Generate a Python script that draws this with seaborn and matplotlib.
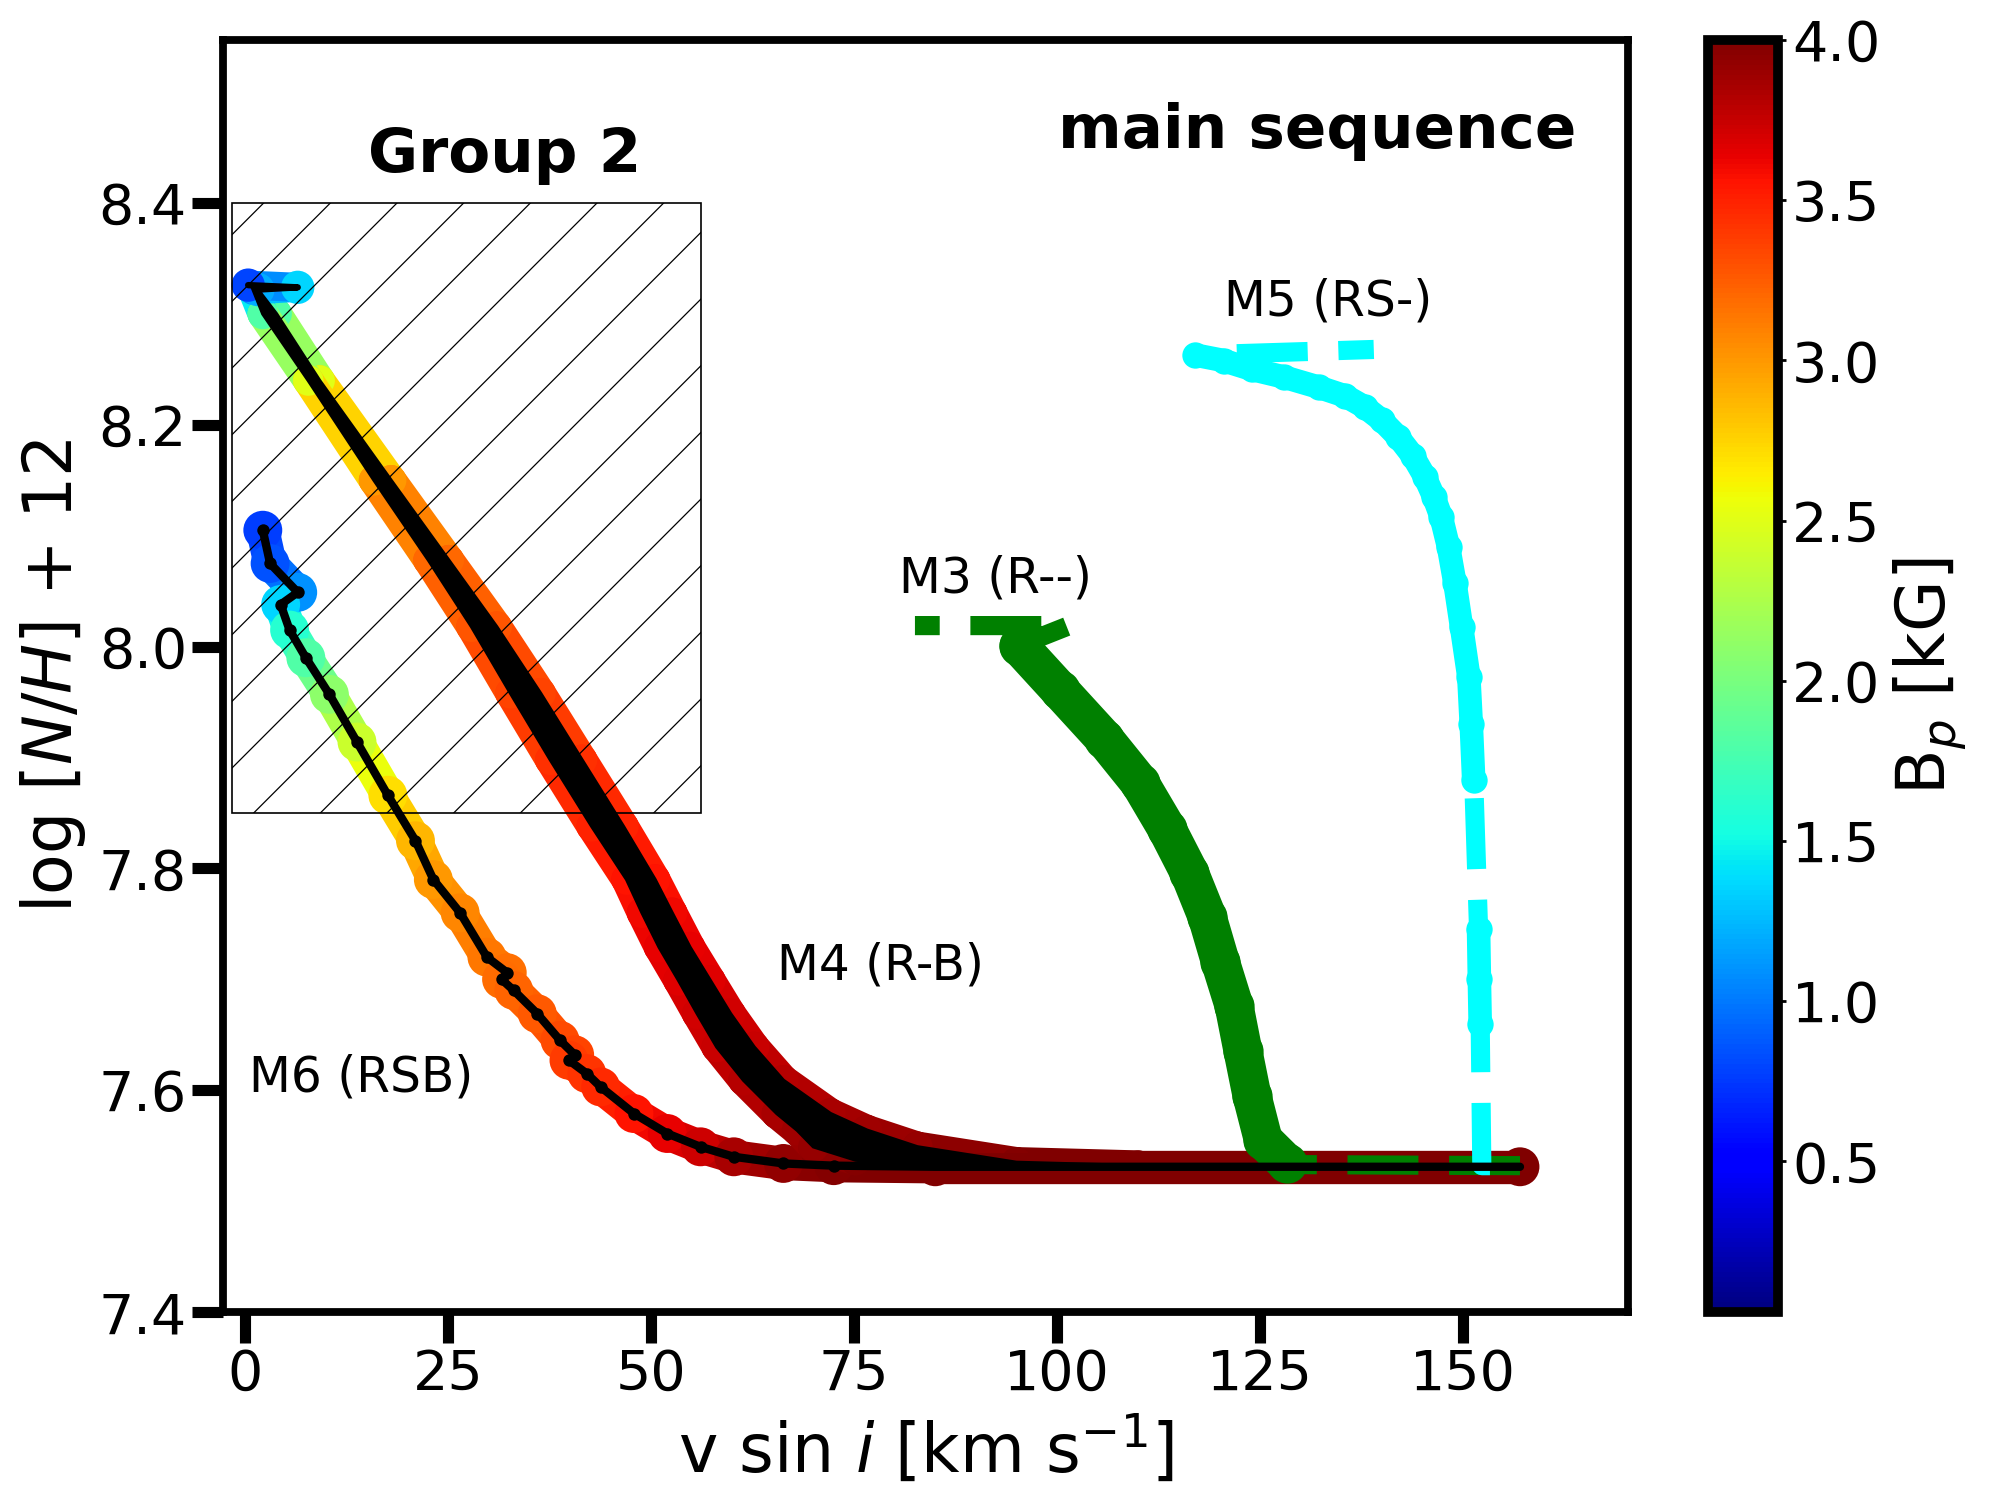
import numpy as np
import matplotlib
matplotlib.use("Agg")
import matplotlib.pyplot as plt
import seaborn as sns
from matplotlib.collections import LineCollection
from matplotlib.colors import Normalize
from matplotlib.patches import Rectangle

# ---- data ----
# M6 (RSB): track centre and surface field B_p [kG]
m6_v = [2.2, 3.1, 6.5, 4.4, 5.5, 7.5, 10.4, 13.8, 17.6, 21.0, 23.2, 26.5, 29.8,
        32.3, 31.6, 33.1, 36.0, 38.8, 40.6, 39.9, 42.1, 43.8, 47.9, 52.0, 56.1,
        60.2, 66.3, 72.5, 85.0, 157.0]
m6_nh = [8.105, 8.075, 8.049, 8.038, 8.015, 7.990, 7.957, 7.914, 7.866, 7.825,
         7.790, 7.760, 7.720, 7.706, 7.700, 7.690, 7.669, 7.645, 7.632, 7.627,
         7.615, 7.603, 7.579, 7.561, 7.549, 7.540, 7.534, 7.532, 7.531, 7.531]
m6_bp = [0.77, 0.85, 1.1, 1.35, 1.6, 1.8, 2.1, 2.4, 2.7, 2.88, 3.0, 3.07, 3.14,
         3.17, 3.19, 3.21, 3.26, 3.32, 3.36, 3.38, 3.42, 3.47, 3.56, 3.64, 3.73,
         3.85, 3.93, 3.98, 4.0, 4.0]

# M4 (R-B): upper and lower edge of the band, same B_p along both
m4_up_v = [1.6, 3.9, 9.2, 18.0, 25.1, 31.0, 36.4, 41.5, 46.6, 50.5, 52.6, 54.8,
           57.3, 59.8, 62.7, 66.3, 72.1, 76.6, 82.8, 95.0, 110.0, 157.0]
m4_up_nh = [8.322, 8.300, 8.240, 8.150, 8.078, 8.018, 7.958, 7.898, 7.838,
            7.790, 7.760, 7.729, 7.699, 7.669, 7.639, 7.609, 7.579, 7.564,
            7.549, 7.535, 7.532, 7.532]
m4_lo_v = [1.0, 2.2, 7.8, 15.9, 22.6, 27.9, 32.7, 37.6, 42.7, 47.0, 48.9, 51.0,
           53.4, 55.7, 58.1, 61.4, 65.5, 68.0, 70.0, 75.2, 85.7, 157.0]
m4_lo_nh = [8.322, 8.300, 8.240, 8.150, 8.078, 8.018, 7.958, 7.898, 7.838,
            7.790, 7.760, 7.729, 7.699, 7.669, 7.639, 7.609, 7.579, 7.564,
            7.549, 7.537, 7.530, 7.530]
m4_bp = [1.1, 1.8, 2.5, 3.0, 3.2, 3.28, 3.36, 3.43, 3.5, 3.56, 3.6, 3.63, 3.67,
         3.71, 3.75, 3.8, 3.85, 3.89, 3.92, 3.97, 4.0, 4.0]
# end-of-main-sequence hook of M4
m4_hook_v = [1.6, 6.5, 0.4]
m4_hook_nh = [8.322, 8.324, 8.326]
m4_hook_bp = [1.2, 1.35, 0.8]

# M3 (R--): points and dashed track
m3_v = [95.3, 100.3, 105.8, 110.2, 113.5, 116.3, 118.5, 120.1, 121.8, 122.9,
        124.0, 125.4, 128.3]
m3_nh = [8.001, 7.961, 7.917, 7.877, 7.836, 7.796, 7.756, 7.716, 7.676, 7.635,
         7.595, 7.555, 7.534]
m3_line_v = [157.0, 127.8, 125.4, 124.0, 122.9, 121.8, 120.1, 118.5, 116.3,
             113.5, 110.2, 105.8, 100.3, 95.3, 101.5, 82.5]
m3_line_nh = [7.532, 7.533, 7.555, 7.595, 7.635, 7.676, 7.716, 7.756, 7.796,
              7.836, 7.877, 7.917, 7.961, 8.001, 8.019, 8.019]

# M5 (RS-): points and dashed track
m5_v = [117.0, 120.5, 124.0, 128.0, 132.2, 135.5, 137.9, 140.0, 142.0, 143.8,
        145.3, 146.4, 147.3, 148.2, 149.0, 149.8, 150.7, 151.0, 151.3, 151.9,
        152.0, 152.1]
m5_nh = [8.263, 8.258, 8.250, 8.243, 8.234, 8.226, 8.216, 8.204, 8.189, 8.172,
         8.153, 8.135, 8.117, 8.090, 8.057, 8.018, 7.973, 7.930, 7.880, 7.745,
         7.700, 7.660]
m5_line_v = [157.0, 152.3, 152.1, 151.9, 151.3, 150.7, 149.8, 149.0, 148.2,
             147.3, 146.4, 145.3, 143.8, 142.0, 140.0, 137.9, 135.5, 132.2,
             128.0, 124.0, 120.5, 117.0, 139.0]
m5_line_nh = [7.532, 7.532, 7.660, 7.745, 7.880, 7.973, 8.018, 8.057, 8.090,
              8.117, 8.135, 8.153, 8.172, 8.189, 8.204, 8.216, 8.226, 8.234,
              8.243, 8.250, 8.258, 8.263, 8.268]

xticks = [0, 25, 50, 75, 100, 125, 150]
yticks = [7.4, 7.6, 7.8, 8.0, 8.2, 8.4]
cbar_ticks = [0.5, 1.0, 1.5, 2.0, 2.5, 3.0, 3.5, 4.0]

# ---- style ----
sns.set_style("white")
plt.rcParams.update({
    "font.family": ["DejaVu Sans"],
    "mathtext.fontset": "dejavusans",
    "text.color": "black",
    "axes.labelcolor": "black",
    "axes.edgecolor": "black",
    "xtick.color": "black",
    "ytick.color": "black",
    "hatch.linewidth": 0.45,
})

jet = matplotlib.colormaps["jet"]
norm = Normalize(vmin=0.03, vmax=4.0)

fig = plt.figure(figsize=(10, 7.5), dpi=200)
ax = fig.add_axes([0.1115, 0.1253, 0.7025, 0.848])
cax = fig.add_axes([0.854, 0.1253, 0.035, 0.848])
ax.set_xlim(-2.7, 170.3)
ax.set_ylim(7.4, 8.547)


def colour_band(v, nh, bp, lw, z, msize):
    pts = np.column_stack([v, nh])
    segs = np.stack([pts[:-1], pts[1:]], axis=1)
    bp = np.asarray(bp, dtype=float)
    lc = LineCollection(segs, cmap=jet, norm=norm, linewidths=lw,
                        capstyle="round", joinstyle="round", zorder=z)
    lc.set_array((bp[:-1] + bp[1:]) / 2)
    ax.add_collection(lc)
    sns.scatterplot(x=v, y=nh, hue=bp, palette=jet, hue_norm=norm,
                    s=msize ** 2, linewidth=0, legend=False, ax=ax, zorder=z)


# coloured tracks (M6 and M4)
colour_band(m6_v, m6_nh, m6_bp, 12.0, 2, 14.0)
colour_band(m4_up_v, m4_up_nh, m4_bp, 11.0, 2, 11.0)
colour_band(m4_lo_v, m4_lo_nh, m4_bp, 11.0, 2, 11.0)
colour_band(m4_hook_v, m4_hook_nh, m4_hook_bp, 10.5, 2, 12.0)

# M3
ax.plot(m3_line_v, m3_line_nh, color="green", lw=6.9, ls="--",
        dash_joinstyle="round", zorder=3)
ax.plot(m3_v, m3_nh, color="green", lw=14, solid_capstyle="round",
        solid_joinstyle="round", zorder=3)
sns.scatterplot(x=m3_v, y=m3_nh, color="green", s=210, linewidth=0,
                legend=False, ax=ax, zorder=3)

# M5: dashed track, phase chosen so that it ends half way through a dash
lw5 = 6.9
px_pt = fig.dpi / 72.0
xy = ax.transData.transform(np.column_stack([m5_line_v, m5_line_nh]))
path_px = np.hypot(*np.diff(xy, axis=0).T).sum()
dash_px, period_px = 3.7 * lw5 * px_pt, 5.3 * lw5 * px_pt
off = ((0.5 * dash_px - path_px) % period_px) / px_pt / lw5
ax.plot(m5_line_v, m5_line_nh, color="cyan", lw=lw5, ls=(off, (3.7, 1.6)),
        dash_joinstyle="round", zorder=4)
ax.plot(m5_v[:19], m5_nh[:19], color="cyan", lw=8.5, solid_capstyle="round",
        solid_joinstyle="round", zorder=4)
ax.plot(m5_v[19:], m5_nh[19:], color="cyan", lw=8.5, solid_capstyle="round",
        zorder=4)
sns.scatterplot(x=m5_v, y=m5_nh, color="cyan", s=90, linewidth=0,
                legend=False, ax=ax, zorder=4)

# Group 2 region
ax.add_patch(Rectangle((-1.6, 7.85), 57.8, 0.55, fill=False, hatch="/",
                       edgecolor="black", lw=0.6, zorder=4.5))

# black overlays
ax.fill(np.r_[m4_up_v, m4_lo_v[::-1]], np.r_[m4_up_nh, m4_lo_nh[::-1]],
        color="black", lw=1.2, zorder=5)
ax.plot(m4_hook_v, m4_hook_nh, color="black", lw=2.3, zorder=5,
        solid_capstyle="round")
ax.plot(m6_v, m6_nh, color="black", lw=3.0, zorder=5)
sns.scatterplot(x=m6_v[:-2], y=m6_nh[:-2], color="black", s=20, linewidth=0,
                legend=False, ax=ax, zorder=5)

# labels
ax.text(32, 8.428, "Group 2", fontsize=22, fontweight="bold", ha="center",
        va="baseline")
ax.text(163.9, 8.45, "main sequence", fontsize=22, fontweight="bold",
        ha="right", va="baseline")
ax.text(80.5, 8.049, "M3 (R--)", fontsize=17.5, va="baseline")
ax.text(120.5, 8.299, "M5 (RS-)", fontsize=17.5, va="baseline")
ax.text(65.5, 7.700, "M4 (R-B)", fontsize=17.5, va="baseline")
ax.text(0.5, 7.599, "M6 (RSB)", fontsize=17.5, va="baseline")

ax.set_xticks(xticks)
ax.set_yticks(yticks)
ax.set_xlabel("v sin $i$ [km s$^{-1}$]", fontsize=24)
ax.set_ylabel("log [$N/H$] + 12", fontsize=24)
ax.tick_params(axis="both", direction="out", length=11, width=4,
               labelsize=20, pad=2, bottom=True, left=True)
for sp in ax.spines.values():
    sp.set_linewidth(2.8)
    sp.set_color("black")

sm = plt.cm.ScalarMappable(norm=norm, cmap=jet)
cbar = fig.colorbar(sm, cax=cax)
cbar.set_ticks(cbar_ticks)
cbar.outline.set_linewidth(3.5)
cbar.ax.tick_params(labelsize=20, length=3, width=1, pad=2)
cbar.set_label("B$_p$ [kG]", fontsize=24, labelpad=4)

fig.savefig("out.png", dpi=200)
